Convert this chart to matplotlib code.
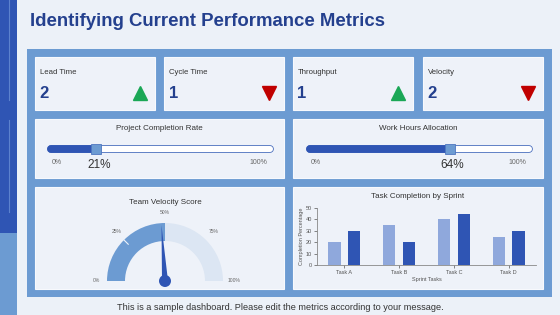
import matplotlib
matplotlib.use("Agg")
import matplotlib.pyplot as plt
from matplotlib.patches import Rectangle, Wedge, Polygon, Circle
import numpy as np

plt.rcParams['font.family'] = ['Liberation Sans', 'DejaVu Sans']

# ---------------- data ----------------
title = "Identifying Current Performance Metrics"
kpi_labels = ["Lead Time", "Cycle Time", "Throughput", "Velocity"]
kpi_values = [2, 1, 1, 2]
kpi_trend = ["up", "down", "up", "down"]

progress_titles = ["Project Completion Rate", "Work Hours Allocation"]
progress_values = [21, 64]

gauge_title = "Team Velocity Score"
gauge_fill = 50
gauge_needle = 48
gauge_ticks = [0, 25, 50, 75, 100]

bar_title = "Task Completion by Sprint"
tasks = ["Task A", "Task B", "Task C", "Task D"]
sprint1 = [20, 35, 40, 25]
sprint2 = [30, 20, 45, 30]
bar_yticks = [0, 10, 20, 30, 40, 50]

footer = "This is a sample dashboard. Please edit the metrics according to your message."

# ---------------- style ----------------
W, H = 560, 315
BG = "#ECF1F8"
DARK = "#2F55B4"
MID = "#6C9BD2"
LIGHT_BAR = "#8FA8DC"
CARD = "#EEF2F9"
TITLE_C = "#24408E"
TXT = "#333333"
GRAY = "#666666"

fig = plt.figure(figsize=(W / 100, H / 100), dpi=100)
fig.patch.set_facecolor(BG)


def frac(x0, y0, x1, y1):
    return [x0 / W, 1 - y1 / H, (x1 - x0) / W, (y1 - y0) / H]


bg = fig.add_axes([0, 0, 1, 1])
bg.set_xlim(0, W)
bg.set_ylim(H, 0)
bg.axis("off")

# left strip
bg.add_patch(Rectangle((0, 0), 17, 233, color=DARK, lw=0))
bg.add_patch(Rectangle((0, 233), 17, H - 233, color=MID, lw=0))
bg.plot([8.5, 8.5], [0, 100], color="#5C82CE", lw=0.8)
bg.plot([8.5, 8.5], [120, 212], color="#5C82CE", lw=0.8)

# title
bg.text(30, 22, title, fontsize=13.4, fontweight="bold", color=TITLE_C,
        va="center", ha="left")

# frame
bg.add_patch(Rectangle((27, 49), 525, 248, color=MID, lw=0))


def card(x0, y0, x1, y1):
    bg.add_patch(Rectangle((x0, y0), x1 - x0, y1 - y0, facecolor=CARD,
                           edgecolor="#F7F9FD", lw=0.8))


# KPI cards
kpi_x = [(35, 155), (164, 284), (293, 413), (423, 543)]
for (x0, x1), lab, val, tr in zip(kpi_x, kpi_labels, kpi_values, kpi_trend):
    card(x0, 57, x1, 110)
    bg.text(x0 + 5, 72, lab, fontsize=5.6, color=TXT, va="center", ha="left")
    bg.text(x0 + 4.5, 93.5, str(val), fontsize=12, fontweight="bold",
            color=TITLE_C, va="center", ha="left")
    if tr == "up":
        bg.plot(x1 - 15, 93, marker="^", markersize=9.5, color="#1AA756", lw=0)
    else:
        bg.plot(x1 - 15, 93, marker="v", markersize=9.5, color="#C00000", lw=0)

# progress cards
prog_x = [(35, 284), (293, 543)]
track_x = [(50.5, 269.5), (309.5, 528.5)]
for (x0, x1), (tx0, tx1), pt, pv in zip(prog_x, track_x, progress_titles, progress_values):
    card(x0, 119, x1, 178)
    bg.text((x0 + x1) / 2, 129, pt, fontsize=5.8, color=TXT, va="center", ha="center")
    ax = fig.add_axes(frac(tx0, 140, tx1, 158))
    ax.set_xlim(0, 100)
    ax.set_ylim(-1, 1)
    ax.axis("off")
    ax.plot([0, 100], [0, 0], color="#4A6FBE", lw=5.6, solid_capstyle="round", clip_on=False)
    ax.plot([0, 100], [0, 0], color="white", lw=4.4, solid_capstyle="round", clip_on=False)
    ax.plot([0, pv], [0, 0], color=DARK, lw=5.6, solid_capstyle="round", clip_on=False)
    ax.plot([pv], [0], marker="s", markersize=7.6, color=MID,
            markeredgecolor="#4F77C0", markeredgewidth=0.6, clip_on=False)
    bg.text(tx0 + 6.5, 162.5, "0%", fontsize=5, color=GRAY, va="center", ha="center")
    bg.text(tx1 - 11.5, 162.5, "100%", fontsize=5, color=GRAY, va="center", ha="center")
    px = tx0 + (tx1 - tx0) * pv / 100
    bg.text(px + 3, 165, f"{pv}%", fontsize=8.5, color=TXT, va="center", ha="center")

# bottom cards
card(35, 187, 284, 289)
card(293, 187, 543, 289)

# gauge
bg.text(165, 203, gauge_title, fontsize=5.8, color=TXT, va="center", ha="center")
gx = fig.add_axes(frac(85, 205, 245, 292))
gx.set_xlim(-80, 80)
gx.set_ylim(-11, 76)
gx.axis("off")
R, r = 58, 40


def ang(v):
    return 180 - v / 100 * 180


gx.add_patch(Wedge((0, 0), R, ang(100), ang(gauge_fill), width=R - r,
                   facecolor="#DCE6F3", lw=0))
gx.add_patch(Wedge((0, 0), R, ang(gauge_fill), ang(0), width=R - r,
                   facecolor=MID, lw=0))
a25 = np.radians(ang(25))
gx.plot([(R - 6) * np.cos(a25), R * np.cos(a25)], [(R - 6) * np.sin(a25), R * np.sin(a25)],
        color="#EEF3FA", lw=0.8)
for t in gauge_ticks:
    a = np.radians(ang(t))
    gx.text(69 * np.cos(a), 68 * np.sin(a) + 1, f"{t}%", fontsize=3.6,
            color=GRAY, ha="center", va="center")
an = np.radians(ang(gauge_needle))
perp = an + np.pi / 2
hw = 3.0
needle = [(56 * np.cos(an), 56 * np.sin(an)),
          (hw * np.cos(perp), hw * np.sin(perp)),
          (-hw * np.cos(perp), -hw * np.sin(perp))]
gx.add_patch(Polygon(needle, closed=True, facecolor=DARK, lw=0))
gx.add_patch(Circle((0, 0), 6, facecolor=DARK, lw=0))

# bar chart
bg.text(418, 196, bar_title, fontsize=5.8, color=TXT, va="center", ha="center")
bx = fig.add_axes(frac(317, 208, 536, 265))
bx.set_facecolor("none")
xs = np.arange(len(tasks))
bx.bar(xs - 0.18, sprint1, width=0.22, color=LIGHT_BAR)
bx.bar(xs + 0.18, sprint2, width=0.22, color=DARK)
bx.set_xlim(-0.5, len(tasks) - 0.5)
bx.set_ylim(0, 50)
bx.set_yticks(bar_yticks)
bx.set_xticks(xs)
bx.set_xticklabels(tasks)
for s in ["top", "right"]:
    bx.spines[s].set_visible(False)
for s in ["left", "bottom"]:
    bx.spines[s].set_color("#888888")
    bx.spines[s].set_linewidth(0.6)
bx.tick_params(labelsize=4, colors="#555555", length=2, width=0.5, pad=1.5)
bx.set_xlabel("Sprint Tasks", fontsize=4, color="#555555", labelpad=1.5)
bx.set_ylabel("Completion Percentage", fontsize=4, color="#555555", labelpad=1.5)

# footer
bg.text(280, 307, footer, fontsize=6.6, color=TXT, va="center", ha="center")

fig.savefig("out.png", dpi=100, facecolor=BG)
